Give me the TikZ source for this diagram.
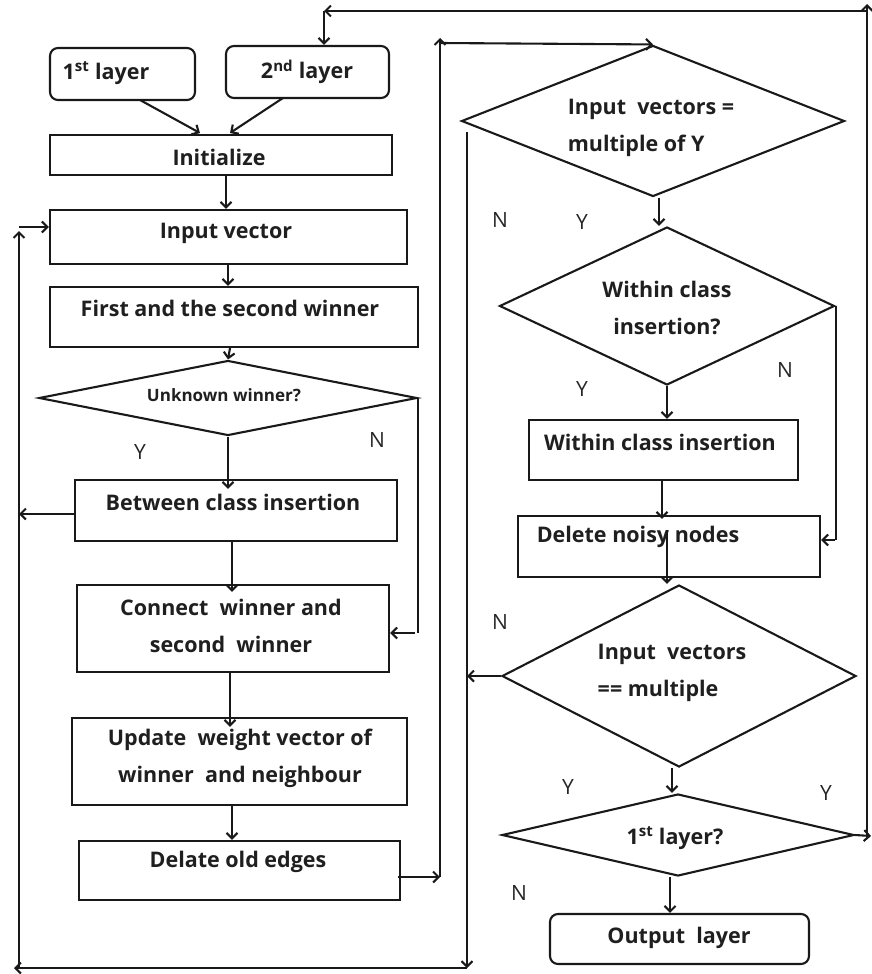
\documentclass[tikz,border=0pt]{standalone}
\usepackage{fontspec}
\setmainfont{Open Sans}
\usetikzlibrary{arrows.meta,shapes.geometric}

\tikzset{
  flow/.style={line width=2.1pt, draw=black!90},
  arr/.style={flow, -{Straight Barb[length=5.5pt,width=11pt,line width=2.1pt]}},
  plain/.style={flow},
  box/.style={draw=black!90, line width=2.1pt, inner sep=0pt},
  rbox/.style={box, rounded corners=8pt},
  dia/.style={draw=black!90, line width=2.1pt, diamond, inner sep=0pt},
  txt/.style={font=\fontsize{21.5}{37}\selectfont\bfseries, inner sep=0pt, text=black!88},
  lbl/.style={font=\fontsize{21}{24}\selectfont, inner sep=0pt, text=black!85},
}

\begin{document}
\begin{tikzpicture}[x=1pt, y=-1pt]
\useasboundingbox (0,0) rectangle (871,974);

% ---------- left column ----------
\node[rbox, minimum width=145pt, minimum height=52pt] (l1) at (122.5,74) {};
\node[txt] (l1t) at (106,73) {1\textsuperscript{st} layer};
\node[rbox, minimum width=163pt, minimum height=52pt] (l2) at (307.5,72) {};
\node[txt] (l2t) at (307,72) {2\textsuperscript{nd} layer};

\node[box, minimum width=342pt, minimum height=40pt] (init) at (221,155) {};
\node[txt] (initt) at (219,157) {Initialize};

\node[box, minimum width=357pt, minimum height=54pt] (inp) at (228.5,237) {};
\node[txt] (inpt) at (226,233) {Input vector};

\node[box, minimum width=368pt, minimum height=60pt] (fsw) at (234,317) {};
\node[txt] (fswt) at (230,308) {First and the second winner};

\node[dia, minimum width=378pt, minimum height=75pt] (uw) at (228,398) {};
\node[txt, font=\fontsize{17}{19}\selectfont\bfseries] (uwt) at (224,395) {Unknown winner?};

\node[box, minimum width=322pt, minimum height=61pt] (bci) at (236,510.5) {};
\node[txt] (bcit) at (233,502) {Between class insertion};

\node[box, minimum width=312pt, minimum height=87pt] (cw) at (233,628.5) {};
\node[txt, align=center] (cwt) at (231,626) {Connect\ \ winner and\\second\ \ winner};

\node[box, minimum width=335pt, minimum height=87pt] (upd) at (239.5,761.5) {};
\node[txt, align=center] (updt) at (240,758) {Update\ \ weight vector of\\winner\ \ and neighbour};

\node[box, minimum width=321pt, minimum height=59pt] (del) at (239.5,870.5) {};
\node[txt] (delt) at (238,862) {Delate old edges};

% ---------- right column ----------
\node[dia, minimum width=383pt, minimum height=151pt] (dA) at (653,121) {};
\node[txt, align=left] (dAt) at (651,128) {Input\ \ vectors =\\multiple of Y};

\node[dia, minimum width=335pt, minimum height=158pt] (dB) at (667,306) {};
\node[txt, align=center] (dBt) at (667,308) {Within class\\insertion?};

\node[box, minimum width=269pt, minimum height=60pt] (wci) at (663.5,450) {};
\node[txt] (wcit) at (660,442) {Within class insertion};

\node[box, minimum width=302pt, minimum height=61pt] (dnn) at (669,546.5) {};
\node[txt] (dnnt) at (638,537) {Delete noisy nodes};

\node[dia, minimum width=354pt, minimum height=182pt] (dC) at (679,676) {};
\node[txt, align=left] (dCt) at (672,673) {Input\ \ vectors\\== multiple};

\node[dia, minimum width=352pt, minimum height=82pt] (dD) at (678,835) {};
\node[txt] (dDt) at (675,838) {1\textsuperscript{st} layer?};

\node[rbox, minimum width=259pt, minimum height=50pt] (out) at (679.5,939) {};
\node[txt] (outt) at (679,938) {Output\ \ layer};

% ---------- Y / N labels ----------
\node[lbl] (nA) at (500,220) {N};
\node[lbl] (yA) at (582,222) {Y};
\node[lbl] (yU) at (140,452) {Y};
\node[lbl] (nU) at (377,440) {N};
\node[lbl] (yB) at (582,389) {Y};
\node[lbl] (nB) at (785,370) {N};
\node[lbl] (nC) at (500,622) {N};
\node[lbl] (yC) at (568,787) {Y};
\node[lbl] (yD) at (826,793) {Y};
\node[lbl] (nD) at (519,893) {N};

% ---------- straight flow ----------
\draw[arr] (140,100) -- (200,133);
\draw[arr] (283,98) -- (230,133);
\draw[arr] (init.south -| 226,0) -- (inp.north -| 226,0);
\draw[arr] (inp.south -| 228,0) -- (fsw.north -| 228,0);
\draw[arr] (fsw.south -| 230,0) -- (uw.north);
\draw[arr] (uw.south) -- ([yshift=-10pt]bci.north -| uw.south);
\draw[arr] (bci.south -| 232,0) -- ([yshift=-8pt]cw.north -| 232,0);
\draw[arr] (cw.south -| 230,0) -- ([yshift=-10pt]upd.north -| 230,0);
\draw[arr] (upd.south -| 232,0) -- (del.north -| 232,0);

\draw[arr] (dA.south -| 659,0) -- (dB.north -| 659,0);
\draw[arr] (dB.south) -- (wci.north -| dB.south);
\draw[arr] (wci.south -| 662,0) -- ([yshift=-4pt]dnn.north -| 662,0);
\draw[arr] (667,530) -- (dC.north -| 667,0);
\draw[arr] (dC.south -| 672,0) -- (dD.north -| 672,0);
\draw[arr] (dD.south -| 670,0) -- (out.north -| 670,0);

% ---------- side branches ----------
\coordinate (uwN) at (415,633);
\draw[plain] (uw.east) -- (uw.east |- uwN);
\draw[arr] (uwN) -- (cw.east |- uwN);

\coordinate (dBN) at (835,540);
\draw[plain] (dB.east) -- (dB.east |- dBN);
\draw[arr] (dBN) -- (dnn.east |- dBN);

% ---------- outer loops ----------
% back to the first layer's companion: 1st layer? -> 2nd layer
\coordinate (rR) at (867,836);
\coordinate (rT) at (867,11);
\coordinate (rL) at (324,11);
\draw[arr] (dD.east) -- ([xshift=4pt]rR);
\draw[arr] (rR) -- ([yshift=7pt]rT);
\draw[arr] (rT) -- (rL);
\draw[arr] (rL) -- (l2.north -| rL);

% from the old-edge removal up to the top decision
\coordinate (eR) at (440,877);
\coordinate (eT) at (440,43);
\draw[arr] ([xshift=-3pt]del.east |- eR) -- (eR);
\draw[arr] (eR) -- ([yshift=5pt]eT);
\draw[arr] (eT) -- (dA.north);

% "N" branch of the top decision: back to the input vector
\coordinate (nT) at (467,132);
\coordinate (nB) at (467,968);
\coordinate (nL) at (19,968);
\coordinate (nU) at (19,227);
\draw[arr] (nT) -- (nB);
\draw[arr] (nB) -- ([xshift=-5pt]nL);
\draw[arr] (nL) -- ([yshift=-4pt]nU);
\draw[arr] (nU) -- (inp.west |- nU);

% side exits onto the return lines
\draw[arr] (dC.west) -- (nT |- dC.west);
\draw[arr] (bci.west |- 0,514) -- (nL |- 0,514);
\end{tikzpicture}
\end{document}
